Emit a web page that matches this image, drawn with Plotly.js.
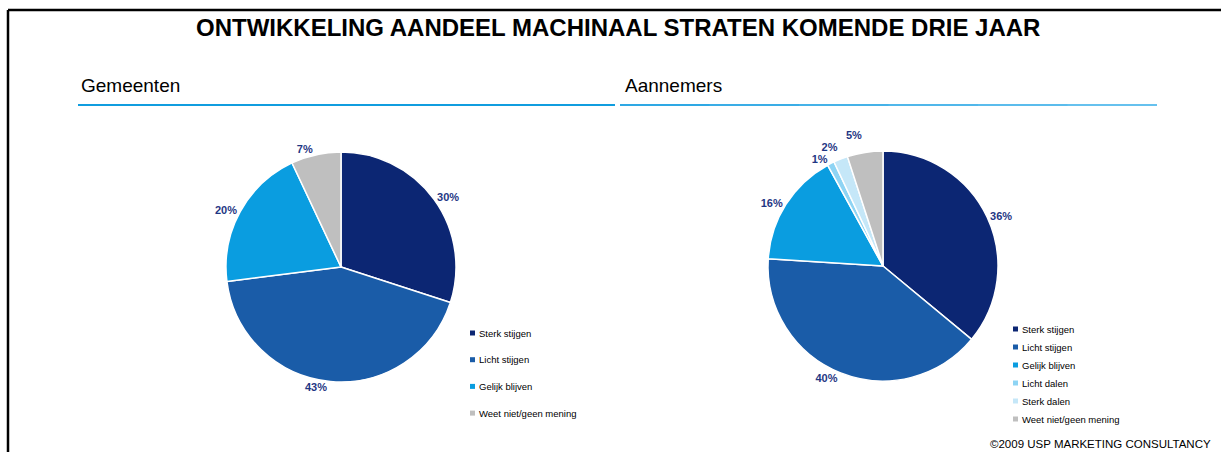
<!DOCTYPE html>
<html>
<head>
<meta charset="utf-8">
<script src="https://cdn.plot.ly/plotly-3.0.1.min.js"></script>
<style>
html,body{margin:0;padding:0;background:#fff;}
#chart{width:1221px;height:452px;}
path.textline{display:none !important;}
</style>
</head>
<body>
<div id="chart"></div>
<script>
// ---- data ----
const categoriesGemeenten = ["Sterk stijgen", "Licht stijgen", "Gelijk blijven", "Weet niet/geen mening"];
const valuesGemeenten = [30, 43, 20, 7];
const categoriesAannemers = ["Sterk stijgen", "Licht stijgen", "Gelijk blijven", "Licht dalen", "Sterk dalen", "Weet niet/geen mening"];
const valuesAannemers = [36, 40, 16, 1, 2, 5];
const colorMap = {
  "Sterk stijgen": "#0c2673",
  "Licht stijgen": "#1a5ca8",
  "Gelijk blijven": "#0a9de0",
  "Licht dalen": "#8ed4f4",
  "Sterk dalen": "#c5e7f8",
  "Weet niet/geen mening": "#bfbfbf"
};
const chartTitle = "ONTWIKKELING AANDEEL MACHINAAL STRATEN KOMENDE DRIE JAAR";
const panelTitles = ["Gemeenten", "Aannemers"];
const footer = "©2009 USP MARKETING CONSULTANCY";

// ---- layout helpers (pixel -> paper) ----
const W = 1221, H = 452;
const px = x => x / W;
const py = y => 1 - y / H;
const FONT = "Liberation Sans, Arial, sans-serif";
const labelColor = "#1f3784";

function pieTrace(labels, values, cx, cy, r) {
  return {
    type: "pie",
    labels: labels,
    values: values,
    sort: false,
    direction: "clockwise",
    rotation: 0,
    marker: { colors: labels.map(l => colorMap[l]), line: { color: "#ffffff", width: 1.5 } },
    texttemplate: "%{value}%",
    textposition: "outside",
    textfont: { family: FONT, size: 11, color: labelColor, weight: "bold" },
    showlegend: false,
    hoverinfo: "label+value",
    domain: { x: [px(cx - r), px(cx + r)], y: [py(cy + r), py(cy - r)] }
  };
}

const data = [
  pieTrace(categoriesGemeenten, valuesGemeenten, 341, 267, 115),
  pieTrace(categoriesAannemers, valuesAannemers, 883, 266, 115)
];

const shapes = [
  // frame
  { type: "line", xref: "paper", yref: "paper", x0: px(8), x1: 1, y0: py(10), y1: py(10), line: { color: "#000", width: 2.5 } },
  { type: "line", xref: "paper", yref: "paper", x0: px(8), x1: px(8), y0: py(10), y1: 0, line: { color: "#000", width: 2.5 } },
  // left panel underline
  { type: "line", xref: "paper", yref: "paper", x0: px(78), x1: px(615), y0: py(105), y1: py(105), line: { color: "#109ddf", width: 2 } }
];
// right panel underline: soft gradient from mid blue to light blue (overlapping segments)
const gradStops = ["#2ea8e4", "#3aade6", "#45b2e8", "#50b7ea", "#5bbcec", "#66c1ee"];
const gx0 = 620, gx1 = 1157, gstep = (gx1 - gx0) / gradStops.length;
gradStops.forEach((c, i) => {
  shapes.push({ type: "line", xref: "paper", yref: "paper", x0: px(gx0 + i * gstep), x1: px(Math.min(gx1, gx0 + (i + 1) * gstep + 2)),
    y0: py(105), y1: py(105), line: { color: c, width: 2 } });
});

const annotations = [
  { text: chartTitle, xref: "paper", yref: "paper", x: px(618), y: py(28), xanchor: "center", yanchor: "middle", showarrow: false,
    font: { family: FONT, size: 24, color: "#000", weight: "bold" } },
  { text: panelTitles[0], xref: "paper", yref: "paper", x: px(79), y: py(85), xanchor: "left", yanchor: "middle", showarrow: false,
    font: { family: FONT, size: 19, color: "#000" } },
  { text: panelTitles[1], xref: "paper", yref: "paper", x: px(623), y: py(85), xanchor: "left", yanchor: "middle", showarrow: false,
    font: { family: FONT, size: 19, color: "#000" } },
  { text: footer, xref: "paper", yref: "paper", x: px(988), y: py(444), xanchor: "left", yanchor: "middle", showarrow: false,
    font: { family: FONT, size: 11.5, color: "#000" } }
];

function addLegend(labels, x, y0, step) {
  labels.forEach((l, i) => {
    const y = y0 + i * step;
    shapes.push({ type: "rect", xref: "paper", yref: "paper", x0: px(x), x1: px(x + 5), y0: py(y + 2.5), y1: py(y - 2.5),
      fillcolor: colorMap[l], line: { width: 0 } });
    annotations.push({ text: l, xref: "paper", yref: "paper", x: px(x + 7), y: py(y), xanchor: "left", yanchor: "middle", showarrow: false,
      font: { family: FONT, size: 9.5, color: "#000" } });
  });
}
addLegend(categoriesGemeenten, 470, 333, 26.7);
addLegend(categoriesAannemers, 1013, 329, 18);

const layout = {
  width: W, height: H,
  margin: { l: 0, r: 0, t: 0, b: 0 },
  paper_bgcolor: "#ffffff",
  plot_bgcolor: "#ffffff",
  showlegend: false,
  shapes: shapes,
  annotations: annotations
};

Plotly.newPlot("chart", data, layout, { displayModeBar: false, staticPlot: true });
</script>
</body>
</html>
